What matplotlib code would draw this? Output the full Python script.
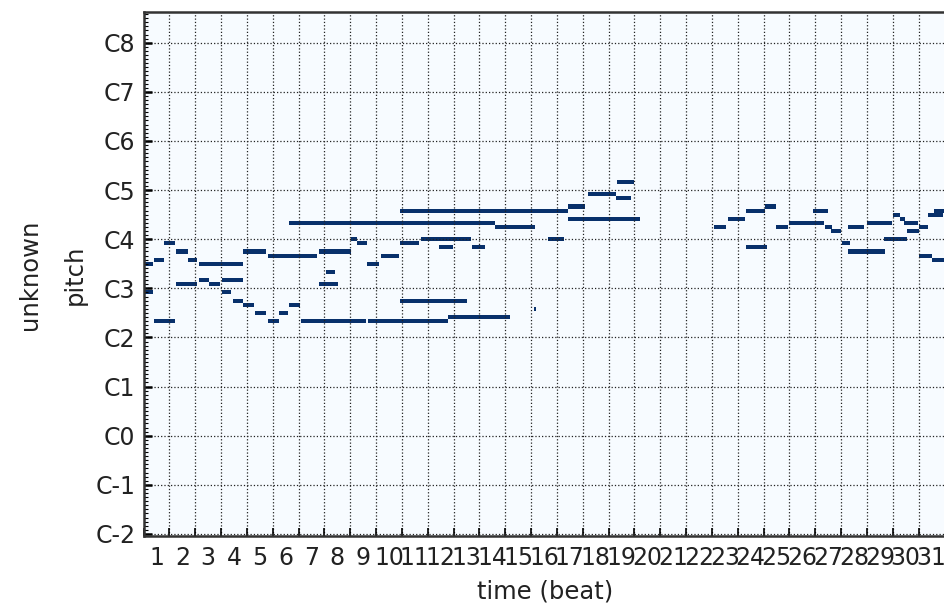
import numpy as np
import matplotlib
matplotlib.use("Agg")
import matplotlib.pyplot as plt

# time steps per beat and length of the roll
resolution = 24
n_beats = 31

# notes: pitch number, onset and offset in beats
note_pitch = [66, 59, 67, 52, 71, 69, 61, 67, 66, 62, 61, 62, 59, 57, 56, 69, 54, 52,
              68, 54, 56, 76, 52, 69, 61, 64, 72, 71, 66, 52, 68, 71, 57, 79, 72, 70,
              53, 70, 75, 55, 72, 80, 77, 83, 82, 86, 75, 77, 79, 70, 80, 75, 76, 79,
              75, 74, 71, 69, 75, 76, 72, 78, 77, 76, 74, 75, 68, 67, 78, 79]
note_start = [0.00, 0.00, 0.37, 0.37, 0.81, 1.27, 1.27, 1.70, 2.12, 2.12, 2.52, 3.00,
              3.00, 3.46, 3.84, 3.84, 4.30, 4.78, 4.78, 5.20, 5.61, 5.61, 6.08, 6.78,
              6.78, 7.04, 8.02, 8.24, 8.64, 8.65, 9.16, 9.90, 9.90, 9.90, 10.69, 11.41,
              11.76, 12.70, 13.58, 15.10, 15.62, 16.43, 16.40, 17.15, 18.27, 18.31,
              22.05, 22.57, 23.31, 23.31, 24.06, 24.47, 24.94, 25.88, 26.39, 26.58,
              26.98, 27.27, 27.27, 27.98, 28.63, 28.99, 29.24, 29.43, 29.53, 30.01,
              30.01, 30.50, 30.35, 30.60]
note_end = [0.34, 0.34, 0.81, 1.22, 1.22, 1.69, 2.05, 2.05, 3.84, 2.52, 2.96, 3.84,
            3.37, 3.84, 4.26, 4.72, 4.72, 5.20, 6.72, 5.58, 6.03, 13.58, 8.59, 8.02,
            7.48, 7.37, 8.26, 8.64, 9.10, 11.76, 9.86, 10.63, 12.51, 16.40, 12.67, 11.97,
            14.16, 13.22, 15.14, 15.18, 16.26, 17.10, 19.20, 18.27, 18.83, 18.96,
            22.56, 23.25, 24.06, 24.11, 24.47, 24.90, 26.34, 26.44, 26.62, 26.94,
            27.32, 28.67, 27.89, 28.95, 29.53, 29.24, 29.44, 29.95, 30.01, 30.35,
            30.48, 31.00, 30.90, 31.00]

octave_labels = ["C{}".format(i - 2) for i in range(11)]
beat_labels = [str(i + 1) for i in range(n_beats)]

# build the piano roll
n_steps = n_beats * resolution
roll = np.zeros((n_steps, 128))
for p, s, e in zip(note_pitch, note_start, note_end):
    roll[int(round(s * resolution)):int(round(e * resolution)), p] = 1

fig = plt.figure(figsize=(9.44, 6.04), dpi=100)
ax = fig.add_axes([143.5 / 944, 68 / 604, 801 / 944, 524 / 604])
ax.imshow(roll.T, cmap="Blues", aspect="auto", vmin=0, vmax=1,
          origin="lower", interpolation="none")

# octave ticks on y, semitone minor ticks
ax.set_yticks(np.arange(0, 128, 12))
ax.set_yticklabels(octave_labels)
ax.set_yticks(np.arange(128), minor=True)

# beat boundaries as major ticks, beat numbers on the minor ones
ax.set_xticks(resolution * np.arange(n_beats) - 0.5)
ax.set_xticklabels([])
ax.set_xticks(resolution * (np.arange(n_beats) + 0.5) - 0.5, minor=True)
ax.set_xticklabels(beat_labels, minor=True)

ax.tick_params(which="both", direction="in", labelsize=17, labelcolor="#222222")
ax.tick_params(axis="y", which="major", length=6, width=1.8, pad=6)
ax.tick_params(axis="y", which="minor", length=3, width=0.8)
ax.tick_params(axis="x", which="major", length=6, width=1.2)
ax.tick_params(axis="x", which="minor", width=0, pad=7)

for sp in ax.spines.values():
    sp.set_linewidth(1.8)
    sp.set_color("#333333")

ax.grid(axis="both", color="#222222", linestyle=":", linewidth=0.9)

fig.text(545 / 944, (604 - 592) / 604, "time (beat)", ha="center", va="center",
         fontsize=17.5, color="#222222")
fig.text(75 / 944, (604 - 275) / 604, "pitch", ha="center", va="center", rotation=90,
         fontsize=17.5, color="#222222")
fig.text(30 / 944, (604 - 275) / 604, "unknown", ha="center", va="center", rotation=90,
         fontsize=17.5, color="#222222")

fig.savefig("out.png", dpi=100)
